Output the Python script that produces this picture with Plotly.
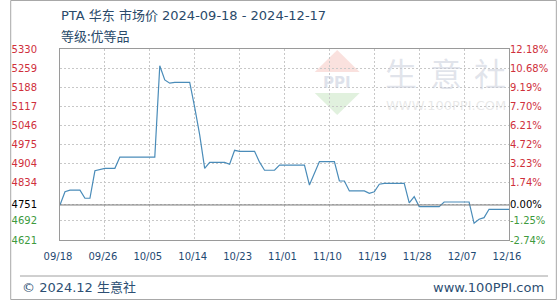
import pandas as pd
import plotly.graph_objects as go

# ---------------- data ----------------
start_date = "2024-09-18"
prices = [
    4751, 4800, 4806, 4806, 4806, 4776, 4776, 4878, 4882, 4887,
    4887, 4887, 4929, 4929, 4929, 4929, 4929, 4929, 4929, 4929,
    5268, 5215, 5203, 5206, 5206, 5206, 5206, 5113, 5011, 4887,
    4909, 4909, 4909, 4909, 4902, 4954, 4950, 4950, 4950, 4950,
    4910, 4880, 4880, 4880, 4899, 4899, 4899, 4899, 4899, 4899,
    4825, 4870, 4912, 4912, 4912, 4912, 4840, 4840, 4803, 4803,
    4803, 4803, 4794, 4800, 4828, 4831, 4831, 4831, 4831, 4831,
    4759, 4782, 4745, 4745, 4745, 4745, 4745, 4762, 4762, 4762,
    4762, 4762, 4762, 4683, 4698, 4704, 4735, 4735, 4735, 4735,
    4735,
]
x_tick_labels = ["09/18", "09/26", "10/05", "10/14", "10/23", "11/01",
                 "11/10", "11/19", "11/28", "12/07", "12/16"]
y_left_labels = ["5330", "5259", "5188", "5117", "5046", "4975",
                 "4904", "4834", "4751", "4692", "4621"]
y_right_labels = ["12.18%", "10.68%", "9.19%", "7.70%", "6.21%", "4.72%",
                  "3.23%", "1.74%", "0.00%", "-1.25%", "-2.74%"]
y_min, y_max = 4621, 5330
title_text = "PTA 华东 市场价 2024-09-18 - 2024-12-17"
subtitle_text = "等级:优等品"
footer_left = "© 2024.12 生意社"
footer_right = "www.100PPI.com"

# ---------------- layout helpers ----------------
W, H = 560, 300
L, R, T, B = 51, 511, 49, 240


def px(x):
    return (x - L) / (R - L)


def py(y):
    return (B - y) / (B - T)


base = prices[0]
dates = pd.date_range(start_date, periods=len(prices), freq="D")
x_ticks = list(dates[::9])

n = len(y_left_labels)
y_ticks = [y_max - k * (y_max - y_min) / (n - 1) for k in range(n)]
base_idx = y_left_labels.index(str(base))
y_ticks[base_idx] = base

RED, GREEN, BLACK = "#cf2f3b", "#3d9a3d", "#000000"


def colour(v):
    if abs(v - base) < 1e-9:
        return BLACK
    return RED if v > base else GREEN


left_text = [f'<span style="color:{colour(v)}">{t}</span>' for v, t in zip(y_ticks, y_left_labels)]
right_text = [f'<span style="color:{colour(v)}">{t}</span>' for v, t in zip(y_ticks, y_right_labels)]

FONT = "DejaVu Sans, Noto Sans CJK SC, sans-serif"
CJK = "Noto Sans CJK SC, DejaVu Sans, sans-serif"

fig = go.Figure()
fig.add_trace(go.Scatter(
    x=dates, y=prices, mode="lines",
    line=dict(color="#4a8cb9", width=1.2),
    showlegend=False, hoverinfo="skip",
))
fig.add_trace(go.Scatter(
    x=[dates[0]], y=[base], yaxis="y2", mode="markers",
    marker=dict(opacity=0), showlegend=False, hoverinfo="skip",
))

fig.update_layout(
    width=W, height=H,
    margin=dict(l=L, r=W - R, t=T, b=H - B),
    paper_bgcolor="white", plot_bgcolor="white",
    font=dict(family=FONT, size=10),
    xaxis=dict(
        type="date",
        range=[dates[0], dates[-1]],
        tickvals=x_ticks, ticktext=x_tick_labels,
        tickfont=dict(color="#1f4a73", size=10, family=FONT),
        showgrid=True, gridcolor="#c8c8c8", griddash="2px,2px", gridwidth=1,
        showline=True, linecolor="#9a9a9a", linewidth=1, mirror=True,
        ticks="", ticklabelstandoff=7, ticklabelshift=-2,
        zeroline=False, fixedrange=True,
    ),
    yaxis=dict(
        range=[y_min, y_max],
        tickvals=y_ticks, ticktext=left_text,
        tickfont=dict(size=10, family=FONT),
        showgrid=True, gridcolor="#c8c8c8", griddash="2px,2px", gridwidth=1,
        showline=True, linecolor="#9a9a9a", linewidth=1, mirror=True,
        ticks="", ticklabelstandoff=20, zeroline=False,
    ),
    yaxis2=dict(
        overlaying="y", side="right", anchor="x",
        range=[y_min, y_max],
        tickvals=y_ticks, ticktext=right_text,
        tickfont=dict(size=10, family=FONT),
        showgrid=False, showline=False, ticks="", zeroline=False,
    ),
)

shapes = []
# watermark logo
shapes.append(dict(type="path", xref="paper", yref="paper",
                   path=f"M {px(312)} {py(72)} L {px(335)} {py(50)} L {px(358)} {py(72)} Z",
                   fillcolor="rgba(240,170,160,0.35)", line=dict(width=0), layer="below"))
shapes.append(dict(type="path", xref="paper", yref="paper",
                   path=f"M {px(312)} {py(93)} L {px(358)} {py(93)} L {px(335)} {py(115)} Z",
                   fillcolor="rgba(170,215,160,0.35)", line=dict(width=0), layer="below"))
# baseline at the first value
shapes.append(dict(type="line", xref="paper", yref="y", x0=0, x1=1, y0=base, y1=base,
                   line=dict(color="#7a7a7a", width=1)))
# footer separator
shapes.append(dict(type="line", xref="paper", yref="paper",
                   x0=px(10), x1=px(551), y0=py(276), y1=py(276),
                   line=dict(color="#a0a0a0", width=1)))
# outer frame
shapes.append(dict(type="rect", xref="paper", yref="paper",
                   x0=px(0.5), x1=px(559.5), y0=py(0.5), y1=py(299.5),
                   line=dict(color="#a8a8a8", width=1)))
fig.update_layout(shapes=shapes)

ann = []
ann.append(dict(text=title_text, x=px(50), y=py(15.5), xref="paper", yref="paper",
                xanchor="left", yanchor="middle", showarrow=False,
                font=dict(family=FONT, size=13, color="#2a4a6a")))
ann.append(dict(text=subtitle_text, x=px(50), y=py(35), xref="paper", yref="paper",
                xanchor="left", yanchor="middle", showarrow=False,
                font=dict(family=CJK, size=13, color="#2a4a6a")))
ann.append(dict(text=footer_left, x=px(10), y=py(287), xref="paper", yref="paper",
                xanchor="left", yanchor="middle", showarrow=False,
                font=dict(family=FONT, size=13, color="#2d4f73")))
ann.append(dict(text=footer_right, x=px(549), y=py(287), xref="paper", yref="paper",
                xanchor="right", yanchor="middle", showarrow=False,
                font=dict(family=FONT, size=13, color="#2d4f73")))
# watermark text
for ch, cx in zip("生意社", [400, 446, 492]):
    ann.append(dict(text=ch, x=px(cx), y=py(72), xref="paper", yref="paper",
                    xanchor="center", yanchor="middle", showarrow=False,
                    font=dict(family=CJK, size=32, color="rgba(200,205,218,0.55)")))
ann.append(dict(text="WWW.100PPI.COM", x=px(446), y=py(105), xref="paper", yref="paper",
                xanchor="center", yanchor="middle", showarrow=False,
                font=dict(family=FONT, size=13, color="rgba(205,205,205,0.45)")))
ann.append(dict(text="<b>PPI</b>", x=px(335), y=py(83), xref="paper", yref="paper",
                xanchor="center", yanchor="middle", showarrow=False,
                font=dict(family=FONT, size=15, color="rgba(190,198,215,0.5)")))
fig.update_layout(annotations=ann)

fig.write_html("out.html")
